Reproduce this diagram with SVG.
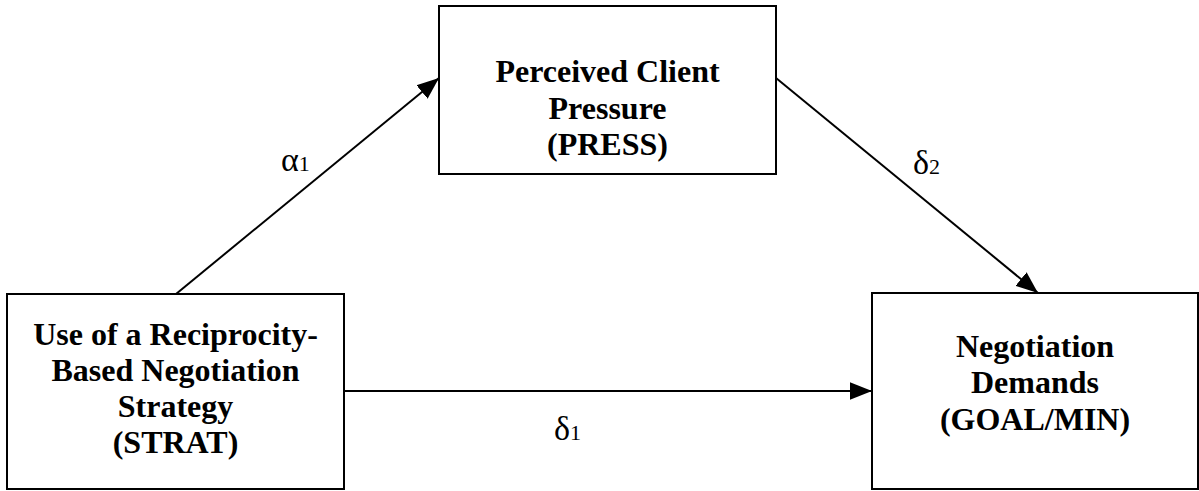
<svg xmlns="http://www.w3.org/2000/svg" width="1199" height="491" viewBox="0 0 1199 491">
<defs>
<style>
.box{fill:#fff;stroke:#000;stroke-width:2}
.t{font-family:"Liberation Serif","Times New Roman",serif;font-weight:bold;font-size:32px;text-anchor:middle;fill:#000}
.c{stroke:#000;stroke-width:2;fill:none}
.g{font-family:"Liberation Serif","Times New Roman",serif;font-size:34px;fill:#000}
.s{font-size:22px}
</style>
<marker id="ah2" viewBox="0 0 10 10" refX="10" refY="5" markerWidth="22" markerHeight="22" markerUnits="userSpaceOnUse" orient="auto">
<path d="M0,1 L10,5 L0,9 z" fill="#000"/>
</marker>
</defs>
<g id="connectors">
<line class="c" x1="176" y1="294" x2="439" y2="78" marker-end="url(#ah2)"/>
<line class="c" x1="776" y1="78" x2="1038" y2="293" marker-end="url(#ah2)"/>
<line class="c" x1="344" y1="391" x2="872" y2="391" marker-end="url(#ah2)"/>
</g>
<g id="strat">
<rect class="box" x="7" y="294" width="337" height="195"/>
<text class="t" x="175.5" y="345">Use of a Reciprocity-</text>
<text class="t" x="175.5" y="381">Based Negotiation</text>
<text class="t" x="175.5" y="417">Strategy</text>
<text class="t" x="175.5" y="453">(STRAT)</text>
</g>
<g id="press">
<rect class="box" x="439" y="6" width="337" height="168"/>
<text class="t" x="607.5" y="82">Perceived Client</text>
<text class="t" x="607.5" y="119">Pressure</text>
<text class="t" x="607.5" y="155">(PRESS)</text>
</g>
<g id="goal">
<rect class="box" x="872" y="293" width="326" height="196"/>
<text class="t" x="1035" y="357">Negotiation</text>
<text class="t" x="1035" y="393">Demands</text>
<text class="t" x="1035" y="430">(GOAL/MIN)</text>
</g>
<g id="labels">
<text class="g" x="281" y="171">α<tspan class="s">1</tspan></text>
<text class="g" x="913" y="174">δ<tspan class="s">2</tspan></text>
<text class="g" x="554" y="440">δ<tspan class="s">1</tspan></text>
</g>
</svg>
